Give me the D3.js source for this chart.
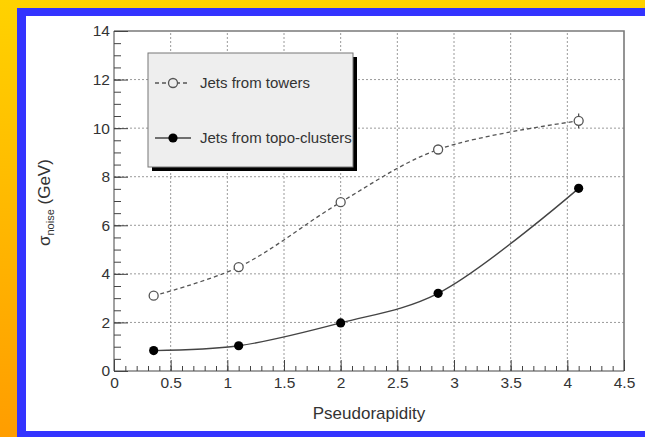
<!DOCTYPE html>
<html>
<head>
<meta charset="utf-8">
<script src="https://cdn.jsdelivr.net/npm/d3@7"></script>
<style>
  html, body { margin: 0; padding: 0; background: #fff; }
  svg { display: block; }
  text { font-family: "Liberation Sans", Arial, Helvetica, sans-serif; }
</style>
</head>
<body>
<svg id="chart" width="645" height="437"></svg>
<script>
// Noise contribution to jet energy versus pseudorapidity
const etaTowers   = [0.35, 1.1, 2.0, 2.86, 4.1];
const sigmaTowers = [3.1, 4.28, 6.95, 9.12, 10.3];
const errTowers   = [0.08, 0.1, 0.1, 0.12, 0.3];

const etaTopo   = [0.35, 1.1, 2.0, 2.86, 4.1];
const sigmaTopo = [0.84, 1.04, 1.98, 3.2, 7.52];

const xTickValues = [0, 0.5, 1, 1.5, 2, 2.5, 3, 3.5, 4, 4.5];
const xTickLabels = ["0", "0.5", "1", "1.5", "2", "2.5", "3", "3.5", "4", "4.5"];
const yTickValues = [0, 2, 4, 6, 8, 10, 12, 14];
const yTickLabels = ["0", "2", "4", "6", "8", "10", "12", "14"];

const legendLabels = ["Jets from towers", "Jets from topo-clusters"];
const xTitle = "Pseudorapidity";

const W = 645, H = 437;
const svg = d3.select("#chart");

// ---- slide frame: warm gradient, blue border, white panel
const defs = svg.append("defs");
const grad = defs.append("linearGradient").attr("id", "warm")
  .attr("x1", 0).attr("y1", 0).attr("x2", 0).attr("y2", 1);
grad.append("stop").attr("offset", "0%").attr("stop-color", "#ffd200");
grad.append("stop").attr("offset", "100%").attr("stop-color", "#ff9d00");
svg.append("rect").attr("width", W).attr("height", H).attr("fill", "url(#warm)");
svg.append("rect").attr("x", 17).attr("y", 8).attr("width", W - 17).attr("height", H - 8)
  .attr("fill", "#3333ff");
svg.append("rect").attr("x", 26).attr("y", 16).attr("width", W - 26).attr("height", 431 - 16)
  .attr("fill", "#ffffff");

// ---- scales
const x0 = 114, x1 = 624, y0 = 371, y1 = 31;
const x = d3.scaleLinear().domain([0, 4.5]).range([x0, x1]);
const y = d3.scaleLinear().domain([0, 14]).range([y0, y1]);

const g = svg.append("g");

// grid (dotted) at major ticks
g.append("g").selectAll("line").data(xTickValues.filter(v => v > 0 && v < 4.5)).join("line")
  .attr("x1", d => x(d)).attr("x2", d => x(d)).attr("y1", y0).attr("y2", y1)
  .attr("stroke", "#9a9a9a").attr("stroke-width", 1).attr("stroke-dasharray", "2,2");
g.append("g").selectAll("line").data(yTickValues.filter(v => v > 0 && v < 14)).join("line")
  .attr("y1", d => y(d)).attr("y2", d => y(d)).attr("x1", x0).attr("x2", x1)
  .attr("stroke", "#9a9a9a").attr("stroke-width", 1).attr("stroke-dasharray", "2,2");

// frame (top / right)
g.append("path")
  .attr("d", `M${x0},${y1}H${x1}V${y0}`)
  .attr("fill", "none").attr("stroke", "#7a7a7a").attr("stroke-width", 1.6);

// minor ticks
const xMinor = d3.range(0, 4.5001, 0.1).map(v => +v.toFixed(2));
const yMinor = d3.range(0, 14.0001, 0.5).map(v => +v.toFixed(2));

g.append("g").attr("transform", `translate(0,${y0})`)
  .call(d3.axisBottom(x).tickValues(xMinor).tickSize(-5).tickFormat(""))
  .call(s => s.select(".domain").remove())
  .call(s => s.selectAll("line").attr("stroke", "#444"));
g.append("g").attr("transform", `translate(${x0},0)`)
  .call(d3.axisLeft(y).tickValues(yMinor).tickSize(-7).tickFormat(""))
  .call(s => s.select(".domain").remove())
  .call(s => s.selectAll("line").attr("stroke", "#444"));

// major ticks + labels
const xAxis = g.append("g").attr("transform", `translate(0,${y0})`)
  .call(d3.axisBottom(x).tickValues(xTickValues).tickSize(-11).tickPadding(6)
    .tickFormat((d, i) => xTickLabels[i]));
xAxis.select(".domain").attr("d", `M${x0},0H${x1}`).attr("stroke", "#444");
xAxis.selectAll("line").attr("stroke", "#444");
xAxis.selectAll("text").attr("font-size", 15.5).attr("fill", "#333")
  .attr("font-family", "Liberation Sans, Arial, sans-serif");

const yAxis = g.append("g").attr("transform", `translate(${x0},0)`)
  .call(d3.axisLeft(y).tickValues(yTickValues).tickSize(-14).tickPadding(4)
    .tickFormat((d, i) => yTickLabels[i]));
yAxis.select(".domain").attr("d", `M0,${y0}V${y1}`).attr("stroke", "#444");
yAxis.selectAll("line").attr("stroke", "#444");
yAxis.selectAll("text").attr("font-size", 15.5).attr("fill", "#333")
  .attr("font-family", "Liberation Sans, Arial, sans-serif");

// axis titles
g.append("text").attr("x", (x0 + x1) / 2).attr("y", 419)
  .attr("text-anchor", "middle").attr("font-size", 17).attr("fill", "#333")
  .text(xTitle);

const yt = g.append("text").attr("transform", "translate(50,246) rotate(-90)")
  .attr("font-size", 17).attr("fill", "#333");
yt.append("tspan").text("\u03C3");
yt.append("tspan").attr("font-size", 11).attr("dy", 4).text("noise");
yt.append("tspan").attr("dy", -4).text(" (GeV)");

// ---- data curves
const towers = etaTowers.map((e, i) => ({ e, s: sigmaTowers[i], err: errTowers[i] }));
const topo = etaTopo.map((e, i) => ({ e, s: sigmaTopo[i] }));

const line = d3.line().x(d => x(d.e)).y(d => y(d.s)).curve(d3.curveCatmullRom.alpha(0.5));

g.append("path").datum(towers).attr("d", line)
  .attr("fill", "none").attr("stroke", "#555").attr("stroke-width", 1.3)
  .attr("stroke-dasharray", "4,3");
g.append("path").datum(topo).attr("d", line)
  .attr("fill", "none").attr("stroke", "#444").attr("stroke-width", 1.4);

// error bars
g.append("g").selectAll("line").data(towers).join("line")
  .attr("x1", d => x(d.e)).attr("x2", d => x(d.e))
  .attr("y1", d => y(d.s - d.err)).attr("y2", d => y(d.s + d.err))
  .attr("stroke", "#444").attr("stroke-width", 1.2);

// markers
g.append("g").selectAll("circle").data(towers).join("circle")
  .attr("cx", d => x(d.e)).attr("cy", d => y(d.s)).attr("r", 4.5)
  .attr("fill", "#fff").attr("stroke", "#555").attr("stroke-width", 1.3);
g.append("g").selectAll("circle").data(topo).join("circle")
  .attr("cx", d => x(d.e)).attr("cy", d => y(d.s)).attr("r", 4.6)
  .attr("fill", "#000");

// ---- legend
const lg = g.append("g");
lg.append("rect").attr("x", 152).attr("y", 57).attr("width", 205).attr("height", 114).attr("fill", "#000");
lg.append("rect").attr("x", 148).attr("y", 53).attr("width", 205).attr("height", 114)
  .attr("fill", "#eeeeee").attr("stroke", "#777").attr("stroke-width", 1);

const legRows = [83, 138];
lg.append("line").attr("x1", 155).attr("x2", 190).attr("y1", legRows[0]).attr("y2", legRows[0])
  .attr("stroke", "#555").attr("stroke-width", 1.3).attr("stroke-dasharray", "4,3");
lg.append("circle").attr("cx", 173).attr("cy", legRows[0]).attr("r", 4.5)
  .attr("fill", "#eee").attr("stroke", "#555").attr("stroke-width", 1.3);
lg.append("line").attr("x1", 155).attr("x2", 191).attr("y1", legRows[1]).attr("y2", legRows[1])
  .attr("stroke", "#444").attr("stroke-width", 1.4);
lg.append("circle").attr("cx", 173).attr("cy", legRows[1]).attr("r", 4.6).attr("fill", "#000");

lg.selectAll("text.leg").data(legendLabels).join("text").attr("class", "leg")
  .attr("x", 200).attr("y", (d, i) => legRows[i]).attr("dy", "0.35em")
  .attr("font-size", 15).attr("fill", "#333").text(d => d);
</script>
</body>
</html>
